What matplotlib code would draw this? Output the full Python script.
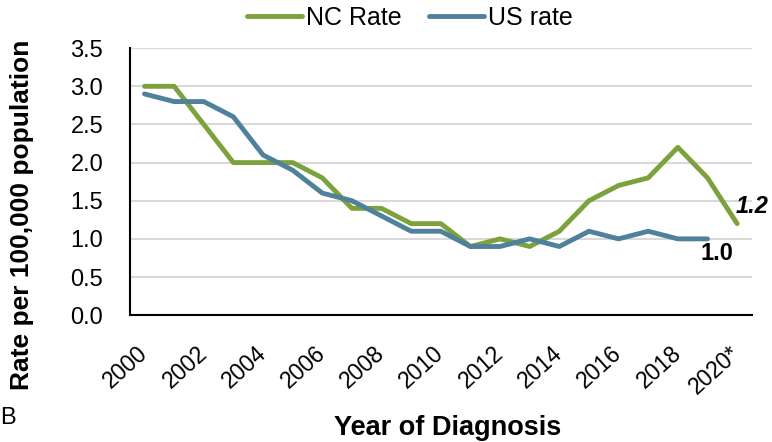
import matplotlib.pyplot as plt

years = [str(y) for y in range(2000, 2020)] + ["2020*"]
nc_rate = [3.0, 3.0, 2.5, 2.0, 2.0, 2.0, 1.8, 1.4, 1.4, 1.2, 1.2,
           0.9, 1.0, 0.9, 1.1, 1.5, 1.7, 1.8, 2.2, 1.8, 1.2]
us_rate = [2.9, 2.8, 2.8, 2.6, 2.1, 1.9, 1.6, 1.5, 1.3, 1.1, 1.1,
           0.9, 0.9, 1.0, 0.9, 1.1, 1.0, 1.1, 1.0, 1.0]

plt.rcParams['font.family'] = ['Liberation Sans', 'DejaVu Sans']

fig = plt.figure(figsize=(7.72, 4.42), dpi=100)
ax = fig.add_axes([0.168, 0.287, 0.806, 0.604])

x_nc = list(range(len(nc_rate)))
x_us = list(range(len(us_rate)))
ax.plot(x_nc, nc_rate, color='#7BA23C', linewidth=3.5, label='NC Rate',
        solid_capstyle='round')
ax.plot(x_us, us_rate, color='#4F819B', linewidth=3.5, label='US rate',
        solid_capstyle='round')

# end labels
ax.annotate(f"{nc_rate[-1]:.1f}", (x_nc[-1], nc_rate[-1]), xytext=(-1, 8),
            textcoords='offset points', fontsize=17, fontweight='bold',
            fontstyle='italic', ha='left', va='baseline')
ax.annotate(f"{us_rate[-1]:.1f}", (x_us[-1], us_rate[-1]), xytext=(7, -15),
            textcoords='offset points', fontsize=17, fontweight='bold',
            ha='center', va='baseline')

ax.set_xlim(-0.5, len(years) - 0.5)
ax.set_ylim(0, 3.5)
ax.set_yticks([i * 0.5 for i in range(8)])
ax.set_yticklabels([f"{i * 0.5:.1f}" for i in range(8)])
ax.set_xticks(range(0, len(years), 2))
ax.set_xticklabels(years[::2], rotation=42, ha='right', va='center',
                   rotation_mode='anchor')
ax.tick_params(axis='y', labelsize=17, length=0, pad=19)
ax.tick_params(axis='x', labelsize=16.5, length=0, pad=25)

ax.grid(axis='y', color='#D9D9D9', linewidth=1.5)
ax.set_axisbelow(True)
for s in ['top', 'right']:
    ax.spines[s].set_visible(False)
for s in ['left', 'bottom']:
    ax.spines[s].set_color('black')
    ax.spines[s].set_linewidth(1.5)

fig.text(0.028, 0.514, "Rate per 100,000 population", rotation=90, fontsize=19,
         fontweight='bold', ha='center', va='center')
fig.text(0.580, 0.032, "Year of Diagnosis", fontsize=19.5, fontweight='bold',
         ha='center', va='center')
fig.text(0.0, 0.054, "B", fontsize=17, ha='left', va='center')

handles, labels = ax.get_legend_handles_labels()
fig.legend(handles, labels, loc='center', bbox_to_anchor=(0.531, 0.959), ncol=2,
           frameon=False, fontsize=18, handlelength=2.2, handletextpad=0.15,
           columnspacing=1.1, borderpad=0)

fig.savefig('out.png', dpi=100)
